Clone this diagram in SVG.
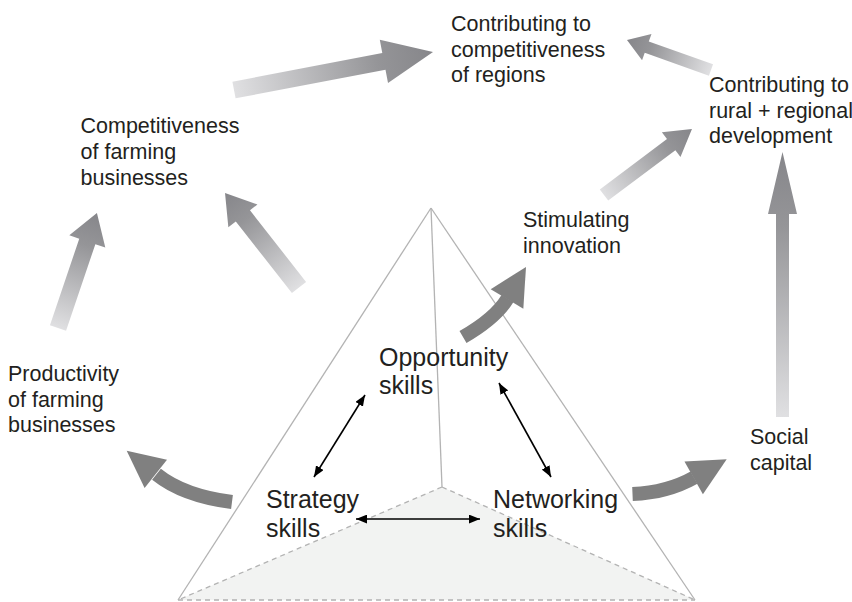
<svg xmlns="http://www.w3.org/2000/svg" width="852" height="602" viewBox="0 0 852 602">
<style>
.lbl{font-family:"Liberation Sans",Arial,sans-serif;font-size:21.5px;fill:#231f20}
.skill{font-family:"Liberation Sans",Arial,sans-serif;font-size:25px;fill:#231f20}
.edge{stroke:#b3b3b3;stroke-width:1.3;fill:none}
.dash{stroke:#b3b3b3;stroke-width:1.3;fill:none;stroke-dasharray:5 4}
.grad{fill:url(#g)}
.curve{stroke:#808080;stroke-width:14;fill:none}
.head{fill:#808080}
.dbl{stroke:#000;stroke-width:1.6;fill:none;marker-start:url(#ah);marker-end:url(#ah)}
</style>
<defs>
<linearGradient id="g" x1="0" y1="0" x2="1" y2="0">
<stop offset="0" stop-color="#e0e0e2"/>
<stop offset="0.72" stop-color="#959598"/>
<stop offset="1" stop-color="#86868a"/>
</linearGradient>
<marker id="ah" viewBox="0 0 10 8" refX="10" refY="4" markerWidth="11" markerHeight="9" markerUnits="userSpaceOnUse" orient="auto-start-reverse">
<path d="M0,0 L10,4 L0,8 Z" fill="#000"/>
</marker>
</defs>
<rect width="852" height="602" fill="#fff"/>

<g id="pyramid">
<polygon points="178,600 442,487 695,600" fill="#f2f3f2"/>
<line class="dash" x1="442" y1="487" x2="178" y2="600"/>
<line class="dash" x1="442" y1="487" x2="695" y2="600"/>
<line class="dash" x1="178" y1="600" x2="695" y2="600"/>
<line class="edge" x1="178" y1="600" x2="431" y2="208"/>
<line class="edge" x1="431" y1="208" x2="695" y2="600"/>
<line class="edge" x1="431" y1="208" x2="442" y2="487"/>
</g>

<g id="connectors">
<polygon class="grad" transform="translate(234,90) rotate(-10.8)" points="0,-8.5 152.6,-8.5 152.6,-22 202.6,0 152.6,22 152.6,8.5 0,8.5"/>
<polygon class="grad" transform="translate(711,70) rotate(-160.35)" points="0,-6 68.2,-6 68.2,-14 89.2,0 68.2,14 68.2,6 0,6"/>
<polygon class="grad" transform="translate(604,195) rotate(-36.9)" points="0,-7 84,-7 84,-15.5 110,0 84,15.5 84,7 0,7"/>
<polygon class="grad" transform="translate(782.5,417) rotate(-90)" points="0,-6.5 203,-6.5 203,-14.5 265,0 203,14.5 203,6.5 0,6.5"/>
<polygon class="grad" transform="translate(58,328) rotate(-71.3)" points="0,-8.5 91.4,-8.5 91.4,-19 121.4,0 91.4,19 91.4,8.5 0,8.5"/>
<polygon class="grad" transform="translate(299,287.5) rotate(-128.06)" points="0,-9 91,-9 91,-18.5 120,0 91,18.5 91,9 0,9"/>

<path class="curve" d="M463,337 Q495.6,318.2 507.5,298.5" stroke-width="13"/>
<polygon class="head" points="526,267 523.3,308.7 490.7,289.3"/>
<path class="curve" d="M232,502 Q183.4,495.8 156.5,474.2"/>
<polygon class="head" points="126.7,450.7 167,459.7 144.6,487.9"/>
<path class="curve" d="M632.5,494 Q667.5,492.5 694,477.6"/>
<polygon class="head" points="726.7,459.3 684.5,461.4 702.9,494.2"/>

<line class="dbl" x1="365" y1="395" x2="314" y2="477"/>
<line class="dbl" x1="499" y1="383" x2="551" y2="477"/>
<line class="dbl" x1="356" y1="519" x2="480" y2="519"/>
</g>

<g id="node-regions"><text class="lbl" x="451" y="31">Contributing to</text><text class="lbl" x="451" y="56.5">competitiveness</text><text class="lbl" x="451" y="82">of regions</text></g>
<g id="node-rural"><text class="lbl" x="709" y="92">Contributing to</text><text class="lbl" x="709" y="117.5">rural + regional</text><text class="lbl" x="709" y="143">development</text></g>
<g id="node-competitiveness"><text class="lbl" x="80.5" y="133">Competitiveness</text><text class="lbl" x="80.5" y="159">of farming</text><text class="lbl" x="80.5" y="185">businesses</text></g>
<g id="node-productivity"><text class="lbl" x="8" y="381">Productivity</text><text class="lbl" x="8" y="406.5">of farming</text><text class="lbl" x="8" y="432">businesses</text></g>
<g id="node-innovation"><text class="lbl" x="523" y="227">Stimulating</text><text class="lbl" x="523" y="253">innovation</text></g>
<g id="node-social"><text class="lbl" x="750" y="444">Social</text><text class="lbl" x="750" y="470">capital</text></g>
<g id="node-opportunity"><text class="skill" x="379" y="366">Opportunity</text><text class="skill" x="379" y="394">skills</text></g>
<g id="node-strategy"><text class="skill" x="266" y="508">Strategy</text><text class="skill" x="266" y="537">skills</text></g>
<g id="node-networking"><text class="skill" x="493" y="508">Networking</text><text class="skill" x="493" y="537">skills</text></g>
</svg>
